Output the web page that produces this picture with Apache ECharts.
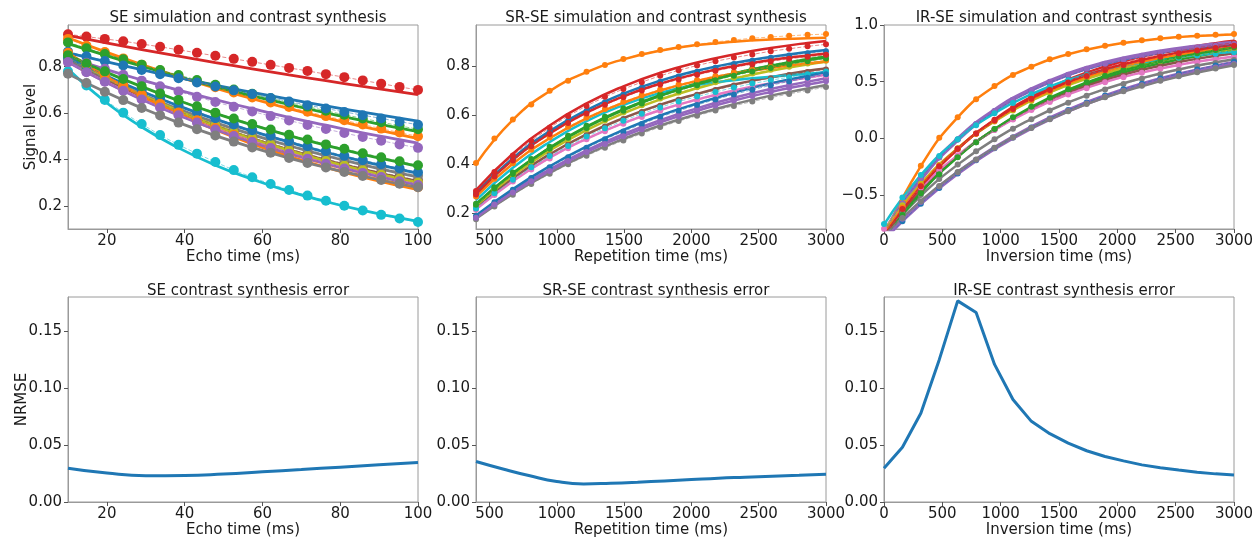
<!DOCTYPE html>
<html>
<head>
<meta charset="utf-8">
<title>SE / SR-SE / IR-SE simulation and contrast synthesis</title>
<script src="https://cdn.jsdelivr.net/npm/echarts@6/dist/echarts.min.js"></script>
<style>
  html, body { margin: 0; padding: 0; background: #fff; }
  #chart { width: 1260px; height: 539px; }
</style>
</head>
<body>
<div id="chart"></div>
<script>
// ---- sampling grids (ms) ----
const echoTimes = [10, 14.74, 19.47, 24.21, 28.95, 33.68, 38.42, 43.16, 47.89, 52.63,
  57.37, 62.11, 66.84, 71.58, 76.32, 81.05, 85.79, 90.53, 95.26, 100];
const repetitionTimes = [400, 536.8, 673.7, 810.5, 947.4, 1084.2, 1221.1, 1357.9, 1494.7, 1631.6,
  1768.4, 1905.3, 2042.1, 2178.9, 2315.8, 2452.6, 2589.5, 2726.3, 2863.2, 3000];
const inversionTimes = [0, 157.9, 315.8, 473.7, 631.6, 789.5, 947.4, 1105.3, 1263.2, 1421.1,
  1578.9, 1736.8, 1894.7, 2052.6, 2210.5, 2368.4, 2526.3, 2684.2, 2842.1, 3000];
// synthesized curves are stored on every other sample plus the last one
const synthesisIndex = [0, 2, 4, 6, 8, 10, 12, 14, 16, 18, 19];

// ---- tissue colours ----
const seColors = ['#d62728', '#ff7f0e', '#2ca02c', '#1f77b4', '#9467bd', '#8c564b', '#e377c2', '#7f7f7f',
  '#bcbd22', '#17becf', '#1f77b4', '#ff7f0e', '#2ca02c', '#9467bd', '#7f7f7f'];
const srColors = ['#1f77b4', '#ff7f0e', '#2ca02c', '#d62728', '#9467bd', '#8c564b', '#e377c2', '#7f7f7f',
  '#bcbd22', '#17becf', '#1f77b4', '#ff7f0e', '#2ca02c', '#d62728', '#9467bd'];
const irColors = ['#1f77b4', '#ff7f0e', '#2ca02c', '#d62728', '#9467bd', '#8c564b', '#e377c2', '#7f7f7f',
  '#bcbd22', '#17becf', '#1f77b4', '#ff7f0e', '#2ca02c', '#d62728', '#9467bd', '#7f7f7f'];

// ---- SE: simulated signal (markers) and synthesized signal (solid) ----
const seSimulated = [
  [0.94,0.93,0.92,0.91,0.898,0.886,0.873,0.86,0.847,0.834,0.821,0.808,0.795,0.782,0.768,0.755,0.741,0.727,0.713,0.70],
  [0.92,0.891,0.863,0.836,0.809,0.784,0.759,0.735,0.712,0.689,0.667,0.646,0.626,0.606,0.587,0.569,0.551,0.533,0.516,0.50],
  [0.905,0.880,0.855,0.832,0.809,0.786,0.764,0.743,0.722,0.702,0.683,0.664,0.646,0.628,0.610,0.593,0.577,0.561,0.545,0.53],
  [0.865,0.845,0.825,0.805,0.786,0.768,0.750,0.732,0.715,0.698,0.682,0.665,0.650,0.634,0.620,0.605,0.591,0.577,0.563,0.55],
  [0.845,0.817,0.791,0.765,0.740,0.716,0.693,0.670,0.648,0.627,0.607,0.587,0.568,0.549,0.531,0.514,0.497,0.481,0.465,0.45],
  [0.83,0.788,0.748,0.711,0.675,0.641,0.608,0.578,0.548,0.521,0.494,0.469,0.446,0.423,0.402,0.382,0.362,0.344,0.327,0.31],
  [0.82,0.777,0.736,0.698,0.661,0.627,0.594,0.563,0.533,0.505,0.479,0.454,0.430,0.408,0.386,0.366,0.347,0.329,0.311,0.295],
  [0.83,0.791,0.753,0.718,0.684,0.651,0.620,0.591,0.563,0.536,0.511,0.487,0.464,0.442,0.421,0.401,0.382,0.364,0.347,0.33],
  [0.84,0.796,0.754,0.714,0.676,0.641,0.607,0.575,0.545,0.516,0.489,0.463,0.438,0.415,0.393,0.373,0.353,0.334,0.317,0.30],
  [0.78,0.719,0.657,0.602,0.553,0.505,0.463,0.425,0.389,0.354,0.323,0.294,0.268,0.244,0.222,0.20,0.18,0.161,0.145,0.13],
  [0.84,0.802,0.765,0.730,0.697,0.665,0.634,0.605,0.578,0.551,0.526,0.502,0.479,0.457,0.436,0.416,0.397,0.379,0.362,0.345],
  [0.86,0.811,0.764,0.720,0.679,0.640,0.603,0.569,0.536,0.506,0.477,0.449,0.423,0.399,0.376,0.355,0.334,0.315,0.297,0.28],
  [0.85,0.814,0.780,0.747,0.716,0.685,0.657,0.629,0.602,0.577,0.553,0.529,0.507,0.486,0.465,0.446,0.427,0.409,0.392,0.375],
  [0.82,0.776,0.735,0.696,0.659,0.624,0.591,0.559,0.529,0.501,0.475,0.449,0.425,0.403,0.381,0.361,0.342,0.324,0.306,0.29],
  [0.77,0.730,0.692,0.656,0.622,0.590,0.559,0.530,0.503,0.477,0.452,0.429,0.406,0.385,0.365,0.346,0.329,0.311,0.295,0.28]
];
const seSynthesized = [
  [0.935,0.904,0.874,0.846,0.818,0.791,0.765,0.740,0.715,0.692,0.68],
  [0.925,0.865,0.809,0.757,0.708,0.662,0.619,0.579,0.542,0.507,0.49],
  [0.90,0.850,0.802,0.757,0.714,0.674,0.637,0.601,0.567,0.535,0.52],
  [0.86,0.823,0.787,0.753,0.721,0.689,0.660,0.631,0.604,0.578,0.565],
  [0.84,0.790,0.743,0.699,0.658,0.619,0.582,0.548,0.515,0.485,0.47],
  [0.83,0.747,0.672,0.605,0.545,0.490,0.441,0.397,0.357,0.322,0.305],
  [0.82,0.736,0.661,0.594,0.533,0.479,0.430,0.386,0.347,0.311,0.295],
  [0.83,0.752,0.681,0.617,0.559,0.507,0.459,0.416,0.377,0.341,0.325],
  [0.845,0.758,0.679,0.609,0.546,0.490,0.439,0.394,0.353,0.317,0.30],
  [0.79,0.65,0.54,0.45,0.375,0.315,0.262,0.218,0.18,0.148,0.133],
  [0.84,0.764,0.694,0.631,0.574,0.522,0.475,0.431,0.392,0.357,0.34],
  [0.86,0.761,0.674,0.597,0.528,0.467,0.414,0.366,0.324,0.287,0.27],
  [0.85,0.779,0.714,0.654,0.599,0.549,0.503,0.461,0.422,0.387,0.37],
  [0.82,0.735,0.659,0.591,0.529,0.475,0.425,0.381,0.342,0.306,0.29],
  [0.77,0.692,0.622,0.559,0.503,0.452,0.406,0.365,0.329,0.295,0.28]
];

// ---- SR-SE ----
const srSimulated = [
  [0.281,0.355,0.421,0.479,0.531,0.577,0.616,0.652,0.684,0.711,0.736,0.757,0.776,0.793,0.808,0.821,0.833,0.843,0.852,0.860],
  [0.404,0.504,0.582,0.643,0.699,0.740,0.776,0.804,0.828,0.849,0.865,0.877,0.888,0.898,0.906,0.913,0.918,0.923,0.927,0.930],
  [0.238,0.305,0.365,0.420,0.470,0.515,0.556,0.593,0.626,0.657,0.685,0.711,0.732,0.753,0.773,0.790,0.805,0.818,0.832,0.843],
  [0.290,0.367,0.435,0.495,0.548,0.596,0.637,0.674,0.706,0.734,0.760,0.782,0.802,0.819,0.834,0.847,0.860,0.870,0.880,0.888],
  [0.184,0.239,0.289,0.336,0.378,0.419,0.456,0.490,0.522,0.551,0.579,0.604,0.627,0.649,0.670,0.688,0.706,0.722,0.736,0.750],
  [0.222,0.284,0.340,0.392,0.438,0.480,0.518,0.553,0.584,0.612,0.638,0.662,0.683,0.702,0.720,0.736,0.750,0.763,0.775,0.786],
  [0.214,0.274,0.329,0.378,0.423,0.464,0.501,0.534,0.564,0.592,0.617,0.640,0.660,0.679,0.696,0.711,0.725,0.737,0.749,0.759],
  [0.175,0.227,0.275,0.319,0.360,0.399,0.434,0.466,0.496,0.524,0.551,0.575,0.597,0.618,0.637,0.655,0.671,0.686,0.700,0.714],
  [0.232,0.297,0.355,0.409,0.458,0.501,0.541,0.578,0.610,0.640,0.667,0.692,0.713,0.734,0.752,0.769,0.784,0.797,0.810,0.821],
  [0.219,0.281,0.336,0.387,0.433,0.474,0.512,0.546,0.577,0.605,0.631,0.655,0.675,0.694,0.712,0.728,0.742,0.754,0.766,0.777],
  [0.188,0.244,0.295,0.343,0.387,0.428,0.466,0.501,0.533,0.563,0.592,0.617,0.641,0.663,0.684,0.703,0.721,0.737,0.752,0.766],
  [0.268,0.340,0.403,0.458,0.508,0.552,0.590,0.624,0.654,0.680,0.704,0.724,0.743,0.759,0.773,0.785,0.796,0.806,0.815,0.823],
  [0.234,0.300,0.359,0.414,0.462,0.507,0.547,0.584,0.617,0.647,0.674,0.699,0.721,0.742,0.760,0.777,0.792,0.806,0.819,0.830],
  [0.276,0.349,0.414,0.472,0.522,0.567,0.606,0.642,0.672,0.700,0.724,0.745,0.764,0.780,0.795,0.807,0.819,0.829,0.838,0.846],
  [0.181,0.235,0.284,0.330,0.372,0.412,0.449,0.482,0.513,0.542,0.570,0.594,0.617,0.639,0.659,0.677,0.694,0.710,0.724,0.738]
];
const srSynthesized = [
  [0.282,0.424,0.534,0.620,0.687,0.740,0.781,0.812,0.837,0.857,0.865],
  [0.40,0.58,0.697,0.775,0.827,0.862,0.885,0.899,0.908,0.913,0.915],
  [0.237,0.363,0.467,0.553,0.623,0.681,0.729,0.769,0.801,0.827,0.839],
  [0.294,0.442,0.557,0.647,0.717,0.772,0.814,0.847,0.873,0.894,0.902],
  [0.184,0.289,0.378,0.456,0.522,0.579,0.627,0.670,0.706,0.736,0.750],
  [0.223,0.342,0.440,0.521,0.587,0.642,0.686,0.724,0.754,0.780,0.790],
  [0.215,0.330,0.426,0.503,0.567,0.620,0.663,0.700,0.729,0.753,0.764],
  [0.177,0.278,0.364,0.439,0.502,0.557,0.603,0.644,0.679,0.708,0.722],
  [0.230,0.353,0.455,0.538,0.607,0.663,0.709,0.748,0.780,0.806,0.817],
  [0.253,0.385,0.490,0.575,0.640,0.690,0.722,0.742,0.756,0.768,0.775],
  [0.190,0.298,0.391,0.471,0.539,0.598,0.647,0.691,0.729,0.760,0.775],
  [0.267,0.401,0.505,0.586,0.650,0.700,0.739,0.768,0.792,0.810,0.818],
  [0.235,0.361,0.465,0.550,0.620,0.678,0.725,0.765,0.797,0.823,0.834],
  [0.278,0.417,0.525,0.610,0.676,0.728,0.768,0.799,0.824,0.843,0.851],
  [0.181,0.284,0.372,0.449,0.513,0.570,0.617,0.659,0.694,0.724,0.738]
];

// ---- IR-SE ----
const irSimulated = [
  [-0.819,-0.567,-0.350,-0.167,-0.010,0.125,0.239,0.338,0.420,0.493,0.554,0.606,0.651,0.689,0.720,0.748,0.772,0.792,0.809,0.824],
  [-0.85,-0.56,-0.241,0.006,0.185,0.344,0.462,0.559,0.632,0.697,0.744,0.785,0.818,0.844,0.865,0.882,0.897,0.906,0.915,0.921],
  [-0.864,-0.656,-0.470,-0.307,-0.162,-0.034,0.080,0.180,0.270,0.348,0.419,0.480,0.536,0.584,0.627,0.665,0.699,0.729,0.756,0.779],
  [-0.882,-0.643,-0.435,-0.254,-0.095,0.043,0.163,0.268,0.360,0.439,0.509,0.568,0.621,0.667,0.708,0.743,0.773,0.800,0.822,0.843],
  [-0.828,-0.573,-0.354,-0.169,-0.010,0.126,0.242,0.341,0.425,0.499,0.560,0.613,0.658,0.696,0.728,0.756,0.780,0.800,0.818,0.833],
  [-0.828,-0.628,-0.451,-0.294,-0.155,-0.032,0.076,0.173,0.259,0.334,0.401,0.460,0.513,0.559,0.601,0.638,0.670,0.698,0.724,0.746],
  [-0.797,-0.604,-0.434,-0.283,-0.150,-0.031,0.073,0.166,0.249,0.321,0.386,0.443,0.494,0.538,0.578,0.613,0.644,0.672,0.696,0.718],
  [-0.837,-0.660,-0.501,-0.358,-0.230,-0.114,-0.009,0.084,0.168,0.245,0.313,0.375,0.431,0.480,0.525,0.565,0.602,0.635,0.664,0.691],
  [-0.81,-0.590,-0.400,-0.233,-0.087,0.040,0.149,0.246,0.330,0.403,0.467,0.522,0.571,0.613,0.650,0.682,0.710,0.734,0.755,0.774],
  [-0.756,-0.523,-0.323,-0.155,-0.009,0.115,0.221,0.312,0.388,0.455,0.512,0.559,0.601,0.636,0.664,0.690,0.712,0.731,0.747,0.760],
  [-0.9,-0.731,-0.578,-0.438,-0.310,-0.194,-0.088,0.008,0.096,0.176,0.250,0.316,0.377,0.432,0.482,0.528,0.570,0.608,0.643,0.675],
  [-0.837,-0.610,-0.413,-0.241,-0.090,0.041,0.154,0.254,0.341,0.417,0.483,0.539,0.590,0.633,0.671,0.705,0.734,0.759,0.780,0.800],
  [-0.891,-0.676,-0.485,-0.317,-0.167,-0.035,0.082,0.186,0.278,0.359,0.432,0.495,0.552,0.602,0.646,0.686,0.721,0.751,0.779,0.803],
  [-0.855,-0.623,-0.422,-0.246,-0.092,0.042,0.158,0.259,0.349,0.426,0.493,0.551,0.602,0.647,0.686,0.720,0.750,0.775,0.797,0.817],
  [-0.873,-0.709,-0.561,-0.425,-0.301,-0.188,-0.085,0.008,0.093,0.171,0.243,0.307,0.366,0.419,0.468,0.512,0.553,0.590,0.624,0.655],
  [-0.864,-0.702,-0.555,-0.420,-0.298,-0.186,-0.084,0.008,0.092,0.169,0.240,0.303,0.362,0.415,0.463,0.507,0.547,0.584,0.617,0.648]
];
const irSynthesized = [
  [-0.828,-0.354,-0.010,0.242,0.425,0.560,0.658,0.728,0.780,0.818,0.833],
  [-0.86,-0.245,0.185,0.46,0.632,0.742,0.815,0.862,0.893,0.91,0.916],
  [-0.860,-0.468,-0.161,0.079,0.268,0.416,0.533,0.624,0.695,0.752,0.775],
  [-0.9,-0.444,-0.097,0.166,0.367,0.519,0.634,0.722,0.789,0.839,0.860],
  [-0.837,-0.358,-0.010,0.245,0.430,0.566,0.665,0.736,0.789,0.827,0.842],
  [-0.833,-0.453,-0.156,0.077,0.260,0.403,0.516,0.604,0.673,0.728,0.750],
  [-0.801,-0.436,-0.150,0.074,0.250,0.388,0.497,0.581,0.648,0.700,0.722],
  [-0.846,-0.507,-0.232,-0.009,0.170,0.317,0.435,0.531,0.608,0.671,0.698],
  [-0.815,-0.402,-0.088,0.150,0.332,0.470,0.574,0.653,0.714,0.759,0.778],
  [-0.761,-0.325,-0.009,0.222,0.390,0.515,0.604,0.668,0.717,0.751,0.765],
  [-0.891,-0.572,-0.307,-0.087,0.095,0.248,0.373,0.477,0.564,0.637,0.668],
  [-0.842,-0.415,-0.091,0.155,0.343,0.485,0.593,0.675,0.738,0.784,0.804],
  [-0.887,-0.483,-0.166,0.082,0.277,0.429,0.550,0.643,0.717,0.775,0.799],
  [-0.864,-0.426,-0.093,0.159,0.352,0.498,0.609,0.693,0.757,0.805,0.826],
  [-0.887,-0.569,-0.305,-0.087,0.095,0.246,0.371,0.475,0.561,0.633,0.665],
  [-0.860,-0.552,-0.296,-0.084,0.092,0.239,0.360,0.460,0.544,0.614,0.645]
];

// ---- synthesis error (NRMSE) ----
const seErrorTE = [10, 20, 30, 40, 50, 60, 70, 80, 90, 100];
const seError = [0.0297, 0.0254, 0.0231, 0.0233, 0.0246, 0.0265, 0.0285, 0.0306, 0.0326, 0.0347];
const srErrorTR = [400, 600, 800, 1000, 1200, 1400, 1600, 1800, 2000, 2200, 2400, 2600, 2800, 3000];
const srError = [0.0356, 0.029, 0.023, 0.018, 0.0159, 0.0165, 0.0174, 0.0185, 0.0197, 0.0209, 0.0218, 0.0227, 0.0235, 0.0244];
const irError = [0.0297, 0.048, 0.078, 0.125, 0.1766, 0.1664, 0.1208, 0.090, 0.0708, 0.060,
  0.0517, 0.045, 0.040, 0.0361, 0.0326, 0.030, 0.028, 0.0262, 0.0247, 0.0238];

// ---- layout & styling ----
const FONT = 'DejaVu Sans';
const INK = '#1a1a1a';
const cols = [68, 476, 884];
const PW = 350;
const rows = [{ top: 25, height: 204 }, { top: 297, height: 205 }];

const grids = [];
for (let r = 0; r < 2; r++) {
  for (let c = 0; c < 3; c++) {
    grids.push({ left: cols[c], top: rows[r].top, width: PW, height: rows[r].height,
      show: true, borderColor: '#9a9a9a', borderWidth: 1, backgroundColor: '#fff' });
  }
}

const titleTexts = ['SE simulation and contrast synthesis', 'SR-SE simulation and contrast synthesis',
  'IR-SE simulation and contrast synthesis', 'SE contrast synthesis error',
  'SR-SE contrast synthesis error', 'IR-SE contrast synthesis error'];
const titles = titleTexts.map((t, i) => ({
  text: t, left: cols[i % 3] + PW / 2, top: i < 3 ? 6 : 279, textAlign: 'center',
  textStyle: { fontFamily: FONT, fontSize: 15, fontWeight: 'normal', color: INK }
}));

const minus = v => (v < 0 ? '\u2212' : '') + Math.abs(v).toFixed(1);
const plainInt = v => String(Math.round(v));

function xAxis(gridIndex, min, max, name, extra) {
  return Object.assign({
    type: 'value', gridIndex, min, max, name, nameLocation: 'middle', nameGap: 21,
    nameTextStyle: { fontFamily: FONT, fontSize: 15, color: INK },
    axisLine: { show: true, onZero: false, lineStyle: { color: '#9a9a9a' } },
    axisTick: { show: true, length: 4, lineStyle: { color: '#555' } },
    axisLabel: { fontFamily: FONT, fontSize: 15, color: INK, margin: 5, formatter: plainInt,
      showMinLabel: min === 0 },
    splitLine: { show: false }
  }, extra || {});
}
function yAxis(gridIndex, min, max, label, extra) {
  const ax = {
    type: 'value', gridIndex, min, max,
    axisLine: { show: true, onZero: false, lineStyle: { color: '#9a9a9a' } },
    axisTick: { show: true, length: 4, lineStyle: { color: '#555' } },
    axisLabel: Object.assign({ fontFamily: FONT, fontSize: 15, color: INK, margin: 6 }, label),
    splitLine: { show: false }
  };
  return Object.assign(ax, extra || {});
}

const xAxes = [
  xAxis(0, 10, 100, 'Echo time (ms)'),
  xAxis(1, 400, 3000, 'Repetition time (ms)'),
  xAxis(2, 0, 3000, 'Inversion time (ms)', { interval: 500 }),
  xAxis(3, 10, 100, 'Echo time (ms)'),
  xAxis(4, 400, 3000, 'Repetition time (ms)'),
  xAxis(5, 0, 3000, 'Inversion time (ms)', { interval: 500 })
];

const errLabel = { formatter: v => v.toFixed(2), showMaxLabel: false };
const yAxes = [
  yAxis(0, 0.1, 0.98, { formatter: v => v.toFixed(1), showMinLabel: false, showMaxLabel: false },
    { name: 'Signal level', nameLocation: 'middle', nameGap: 29, nameRotate: 90, nameMoveOverlap: false,
      nameTextStyle: { fontFamily: FONT, fontSize: 15, color: INK } }),
  yAxis(1, 0.135, 0.967, { formatter: v => v.toFixed(1), showMinLabel: false, showMaxLabel: false }),
  yAxis(2, -0.8, 1.0, { formatter: minus, showMinLabel: false }, { splitNumber: 4 }),
  yAxis(3, 0, 0.18, errLabel,
    { interval: 0.05, name: 'NRMSE', nameLocation: 'middle', nameGap: 38, nameRotate: 90, nameMoveOverlap: false,
      nameTextStyle: { fontFamily: FONT, fontSize: 15, color: INK } }),
  yAxis(4, 0, 0.18, errLabel, { interval: 0.05 }),
  yAxis(5, 0, 0.18, errLabel, { interval: 0.05 })
];

const series = [];
function addPanel(idx, xs, colors, simulated, synthesized, style) {
  colors.forEach((color, i) => {
    series.push({
      type: 'line', xAxisIndex: idx, yAxisIndex: idx, smooth: 0.5, showSymbol: false,
      data: synthesisIndex.map((k, j) => [xs[k], synthesized[i][j]]),
      lineStyle: { color, width: (style.thick && style.thick.includes(i)) ? 4.5 : style.solidWidth },
      itemStyle: { color }, z: 2, silent: true
    });
  });
  colors.forEach((color, i) => {
    series.push({
      type: 'line', xAxisIndex: idx, yAxisIndex: idx, showSymbol: true,
      symbol: 'circle', symbolSize: style.markerSize,
      data: xs.map((x, k) => [x, simulated[i][k]]),
      lineStyle: { color, width: 1, type: [4, 2], opacity: 0.55 },
      itemStyle: { color, opacity: 1 }, z: 3, silent: true
    });
  });
}
addPanel(0, echoTimes, seColors, seSimulated, seSynthesized, { solidWidth: 2.8, markerSize: 10 });
addPanel(1, repetitionTimes, srColors, srSimulated, srSynthesized, { solidWidth: 2.5, markerSize: 6 });
addPanel(2, inversionTimes, irColors, irSimulated, irSynthesized, { solidWidth: 2.5, markerSize: 6, thick: [4, 14] });

function errorSeries(idx, xs, ys, smooth) {
  series.push({
    type: 'line', xAxisIndex: idx, yAxisIndex: idx, smooth, showSymbol: false,
    data: xs.map((x, k) => [x, ys[k]]),
    lineStyle: { color: '#1f77b4', width: 3 }, itemStyle: { color: '#1f77b4' }, silent: true
  });
}
errorSeries(3, seErrorTE, seError, 0.5);
errorSeries(4, srErrorTR, srError, 0.5);
errorSeries(5, inversionTimes, irError, false);

const chart = echarts.init(document.getElementById('chart'), null, { renderer: 'canvas' });
chart.setOption({
  backgroundColor: '#fff',
  animation: false,
  textStyle: { fontFamily: FONT },
  title: titles,
  grid: grids,
  xAxis: xAxes,
  yAxis: yAxes,
  series
});
</script>
</body>
</html>
